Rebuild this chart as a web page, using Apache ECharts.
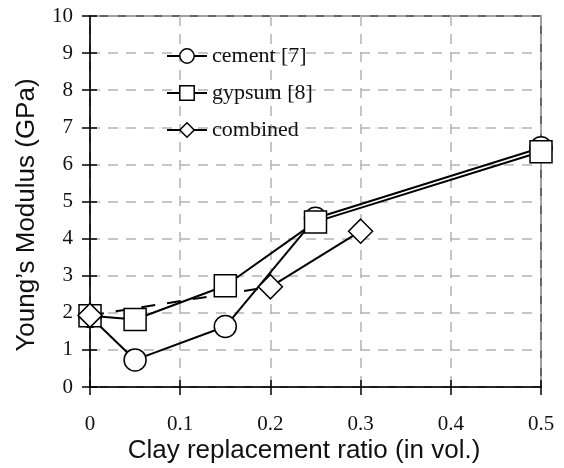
<!DOCTYPE html>
<html><head><meta charset="utf-8">
<script src="https://cdn.jsdelivr.net/npm/echarts@6/dist/echarts.min.js"></script>
<style>html,body{margin:0;padding:0;background:#fff}#c{width:564px;height:468px}</style>
</head><body><div id="c"></div>
<script>
var cementX = [0, 0.05, 0.15, 0.25, 0.5];
var cementY = [1.9, 0.73, 1.63, 4.55, 6.45];
var gypsumX = [0, 0.05, 0.15, 0.25, 0.5];
var gypsumY = [1.92, 1.82, 2.73, 4.45, 6.34];
var combinedX = [0, 0.2, 0.3];
var combinedY = [1.93, 2.7, 4.2];
var xTicks = [0, 0.1, 0.2, 0.3, 0.4, 0.5];
var yTicks = [0, 1, 2, 3, 4, 5, 6, 7, 8, 9, 10];
var names = ['cement [7]', 'gypsum [8]', 'combined'];
var xTitle = 'Clay replacement ratio (in vol.)';
var yTitle = 'Young\u2019s Modulus (GPa)';

function pairs(xs, ys){ return xs.map(function(x,i){ return [x, ys[i]]; }); }
var cement = pairs(cementX, cementY);
var gypsum = pairs(gypsumX, gypsumY);
var combined = pairs(combinedX, combinedY);

var serif = 'Liberation Serif';
var black = '#000';
var sym = {color:'#fff', borderColor:black, borderWidth:1.5};

var chart = echarts.init(document.getElementById('c'), null, {renderer:'canvas'});
chart.setOption({
  animation:false,
  backgroundColor:'#fff',
  grid:{left:90, right:23, top:16, bottom:81, show:true, borderColor:'#333', borderWidth:1.5, backgroundColor:'transparent'},
  xAxis:[{
    type:'value', min:0, max:0.5, interval:0.1,
    axisLine:{show:true, onZero:false, lineStyle:{color:black, width:1.5}},
    axisTick:{show:true, inside:false, length:8, lineStyle:{color:black, width:1.5}},
    axisLabel:{margin:27, fontFamily:serif, fontSize:21, color:'#111',
      formatter:function(v){ var i = xTicks.indexOf(Math.round(v*10)/10); return i>=0 ? String(xTicks[i]) : ''; }},
    splitLine:{show:true, lineStyle:{color:'#b4b4b4', width:1.5, type:[10,8]}}
  },{
    type:'value', min:0, max:0.5, interval:0.1, position:'bottom',
    axisLine:{show:false},
    axisTick:{show:true, inside:true, length:7, lineStyle:{color:black, width:1.5}},
    axisLabel:{show:false}, splitLine:{show:false}
  }],
  yAxis:[{
    type:'value', min:0, max:10, interval:1,
    axisLine:{show:true, onZero:false, lineStyle:{color:black, width:1.5}},
    axisTick:{show:true, inside:false, length:8, lineStyle:{color:black, width:1.5}},
    axisLabel:{margin:17, fontFamily:serif, fontSize:21, color:'#111',
      formatter:function(v){ var i = yTicks.indexOf(Math.round(v)); return i>=0 ? String(yTicks[i]) : ''; }},
    splitLine:{show:true, lineStyle:{color:'#b4b4b4', width:1.5, type:[10,8]}}
  },{
    type:'value', min:0, max:10, interval:1, position:'left',
    axisLine:{show:false},
    axisTick:{show:true, inside:true, length:7, lineStyle:{color:black, width:1.5}},
    axisLabel:{show:false}, splitLine:{show:false}
  }],
  legend:{
    left:161, top:40, orient:'vertical', itemWidth:40, itemHeight:18, itemGap:15,
    data:names,
    textStyle:{fontFamily:serif, fontSize:22, color:'#111', lineHeight:21},
    lineStyle:{color:black, width:2, opacity:1, type:'solid'},
    itemStyle:{color:'#fff', borderColor:black, borderWidth:1.5},
    selectedMode:false
  },
  graphic:[
    {type:'text', x:304, y:451, style:{text:xTitle, font:'26px "Liberation Sans"', fill:'#111', align:'center', verticalAlign:'middle'}},
    {type:'text', x:27, y:215, rotation:Math.PI/2, style:{text:yTitle, font:'26px "Liberation Sans"', fill:'#111', align:'center', verticalAlign:'middle'}}
  ],
  series:[
    {name:'combined-dash', type:'line', data:combined.slice(0,2), showSymbol:false, symbol:'none',
     lineStyle:{color:black, width:2, type:[14,12]}, z:2},
    {name:names[0], type:'line', data:cement, symbol:'circle', symbolSize:22,
     itemStyle:sym, lineStyle:{color:black, width:2}, z:3},
    {name:names[1], type:'line', data:gypsum, symbol:'rect', symbolSize:22,
     itemStyle:sym, lineStyle:{color:black, width:2}, z:4},
    {name:'combined-solid', type:'line', data:combined.slice(1), symbol:'none',
     lineStyle:{color:black, width:2}, z:5},
    {name:names[2], type:'line', data:combined, symbol:'diamond', symbolSize:[24,24],
     itemStyle:sym, lineStyle:{color:black, width:0, opacity:0}, z:6}
  ]
});
</script></body></html>
